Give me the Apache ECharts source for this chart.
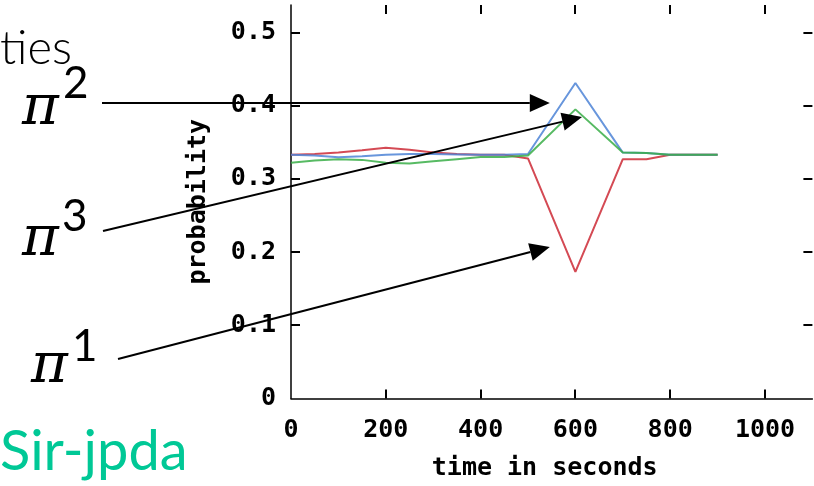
<!DOCTYPE html>
<html>
<head>
<meta charset="utf-8">
<script src="https://cdn.jsdelivr.net/npm/echarts@6/dist/echarts.min.js"></script>
<style>
  html, body { margin: 0; padding: 0; background: #fff; }
  #chart { width: 814px; height: 486px; }
</style>
</head>
<body>
<div id="chart"></div>
<script>
// Sample times (seconds) and the three association probabilities
const times = [0, 50, 100, 150, 200, 250, 300, 350, 400, 450, 500, 600, 700, 750, 800, 850, 900];
const pi1 = [0.333, 0.334, 0.336, 0.339, 0.3425, 0.340, 0.336, 0.334, 0.333, 0.333, 0.328, 0.173, 0.327, 0.327, 0.333, 0.333, 0.333];
const pi2 = [0.333, 0.332, 0.3295, 0.331, 0.333, 0.334, 0.334, 0.3335, 0.333, 0.333, 0.334, 0.431, 0.336, 0.3355, 0.333, 0.333, 0.333];
const pi3 = [0.322, 0.325, 0.327, 0.326, 0.322, 0.321, 0.324, 0.327, 0.330, 0.330, 0.332, 0.395, 0.336, 0.3355, 0.333, 0.333, 0.333];

const xTickLabels = [0, 200, 400, 600, 800, 1000];
const yTickLabels = [0, 0.1, 0.2, 0.3, 0.4, 0.5];
const xInnerTicks = [200, 400, 600, 800, 1000];
const yInnerTicks = [0.1, 0.2, 0.3, 0.4, 0.5];

// Arrow targets inside the plot, in data units [time, probability]
const arrowTip2 = [546, 0.4037];
const arrowTip3 = [614, 0.3846];
const arrowTip1 = [546, 0.207];

const X_MAX = 1100;
const Y_MAX = 0.5376;

const MONO = 'DejaVu Sans Mono';
const tickFont = { fontFamily: MONO, fontWeight: 'bold', fontSize: 25, color: '#000' };

const chart = echarts.init(document.getElementById('chart'), null, { renderer: 'canvas' });

const pairs = arr => times.map((t, i) => [t, arr[i]]);

function lineSeries(data, color) {
  return {
    type: 'line',
    data: pairs(data),
    showSymbol: false,
    symbol: 'none',
    lineStyle: { color: color, width: 2, opacity: 0.85 },
    animation: false,
    z: 3
  };
}

chart.setOption({
  animation: false,
  backgroundColor: '#fff',
  grid: { left: 291, top: 5, width: 521.4, height: 393.5 },
  xAxis: {
    type: 'value', min: 0, max: X_MAX, interval: 200, position: 'bottom',
    name: 'time in seconds', nameLocation: 'middle', nameGap: 57,
    nameTextStyle: Object.assign({ padding: [0, 14, 0, 0] }, tickFont),
    axisLine: { show: true, onZero: false, lineStyle: { color: '#000', width: 1.5 } },
    axisTick: { show: false },
    axisLabel: Object.assign({ customValues: xTickLabels, margin: 19, formatter: v => String(v) }, tickFont),
    splitLine: { show: false }
  },
  yAxis: {
    type: 'value', min: 0, max: Y_MAX, interval: 0.1, position: 'left',
    name: 'probability', nameLocation: 'middle', nameGap: 80, nameRotate: 90,
    nameTextStyle: tickFont,
    axisLine: { show: true, onZero: false, lineStyle: { color: '#000', width: 1.5 } },
    axisTick: { show: false },
    axisLabel: Object.assign({
      customValues: yTickLabels, margin: 15,
      formatter: v => (v === 0 ? '0' : v.toFixed(1))
    }, tickFont),
    splitLine: { show: false }
  },
  series: [
    lineSeries(pi1, '#cc2a36'),
    lineSeries(pi2, '#4d84d6'),
    lineSeries(pi3, '#3aae48')
  ]
});

const toPx = v => chart.convertToPixel({ gridIndex: 0 }, v);
const TICK = 9;
const tickStyle = { stroke: '#000', lineWidth: 2 };

// Inward tick marks on all four sides of the frame, placed with the axis scales
const corner0 = toPx([0, 0]);
const cornerMax = toPx([X_MAX, Y_MAX]);
const tickEls = [];
xInnerTicks.forEach(v => {
  const x = Math.round(toPx([v, 0])[0]);
  tickEls.push({ type: 'line', shape: { x1: x, y1: corner0[1], x2: x, y2: corner0[1] - TICK }, style: tickStyle, z: 10 });
  tickEls.push({ type: 'line', shape: { x1: x, y1: cornerMax[1], x2: x, y2: cornerMax[1] + TICK }, style: tickStyle, z: 10 });
});
yInnerTicks.forEach(v => {
  const y = Math.round(toPx([0, v])[1]);
  tickEls.push({ type: 'line', shape: { x1: corner0[0], y1: y, x2: corner0[0] + TICK, y2: y }, style: tickStyle, z: 10 });
  tickEls.push({ type: 'line', shape: { x1: cornerMax[0], y1: y, x2: cornerMax[0] - TICK, y2: y }, style: tickStyle, z: 10 });
});

// Annotations: slide text, pi labels and arrows pointing into the plot
function arrow(x1, y1, x2, y2) {
  const ang = Math.atan2(y2 - y1, x2 - x1);
  const L = 20, W = 9;
  const c = Math.cos(ang), s = Math.sin(ang);
  const bx = x2 - L * c, by = y2 - L * s;
  return [
    { type: 'line', shape: { x1: x1, y1: y1, x2: bx, y2: by }, style: { stroke: '#000', lineWidth: 2 }, z: 20 },
    { type: 'polygon', shape: { points: [[x2, y2], [bx - W * s, by + W * c], [bx + W * s, by - W * c]] }, style: { fill: '#000' }, z: 20 }
  ];
}

function piLabel(px, py, digit, dx, dy) {
  return [
    { type: 'text', x: px, y: py, style: { text: 'π', fontFamily: 'DejaVu Serif', fontStyle: 'italic', fontSize: 56, fill: '#000', align: 'left', verticalAlign: 'middle' }, z: 20 },
    { type: 'text', x: px + dx, y: py + dy, style: { text: digit, fontFamily: 'Lato', fontSize: 44, fill: '#000', align: 'left', verticalAlign: 'middle' }, z: 20 }
  ];
}

const tip2 = toPx(arrowTip2);
const tip3 = toPx(arrowTip3);
const tip1 = toPx(arrowTip1);

const elements = [].concat(
  tickEls,
  [{ type: 'text', x: 0, y: 49, style: { text: 'ties', fontFamily: 'Lato', fontWeight: 300, fontSize: 47, fill: '#000', align: 'left', verticalAlign: 'middle' }, z: 20 }],
  [{ type: 'text', x: 0, y: 452, style: { text: 'Sir-jpda', fontFamily: 'Lato', fontSize: 56, fill: '#00c896', align: 'left', verticalAlign: 'middle' }, z: 20 }],
  piLabel(22, 109, '2', 41, -25),
  piLabel(22, 240, '3', 40, -23),
  piLabel(31, 367, '1', 41, -20),
  arrow(102, tip2[1], tip2[0], tip2[1]),
  arrow(103, 231, tip3[0], tip3[1]),
  arrow(118, 359, tip1[0], tip1[1])
);

chart.setOption({ graphic: { elements: elements } });
</script>
</body>
</html>
